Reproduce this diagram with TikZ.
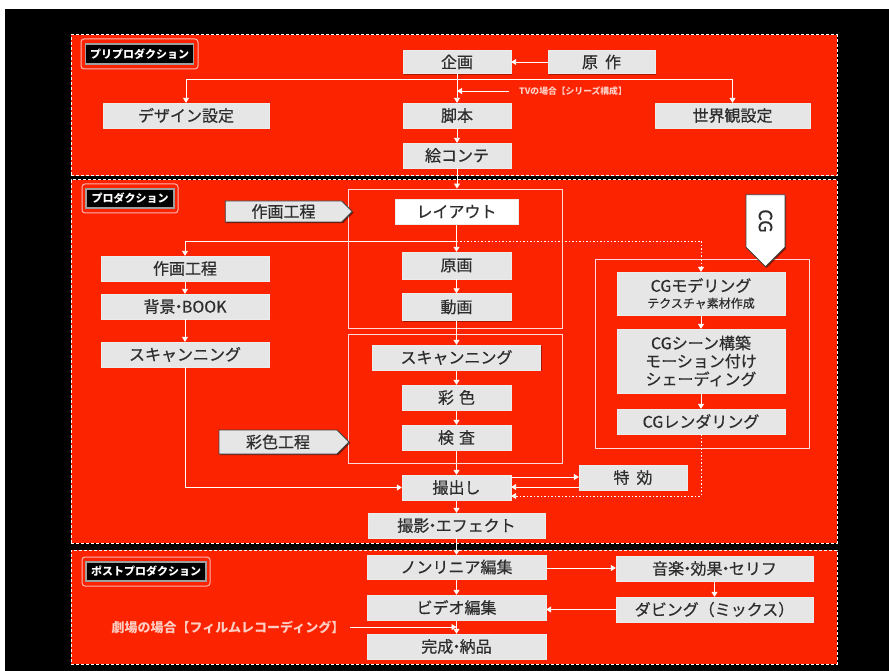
\documentclass[tikz,border=0pt]{standalone}
\usepackage{fontspec}
\newfontfamily\jp[FakeBold=0.5]{Noto Sans CJK JP}
\newfontfamily\jpb{Noto Sans CJK JP}
\usetikzlibrary{shapes.symbols,shadows,arrows.meta}
\definecolor{bg}{RGB}{252,36,0}
\definecolor{boxg}{RGB}{230,230,230}
\definecolor{txt}{RGB}{45,45,45}
\definecolor{pinkt}{RGB}{255,205,195}
\newcommand\dt{\kern-0.3em・\kern-0.3em}
\begin{document}
\begin{tikzpicture}[x=1pt,y=-1pt,
  sect/.style={draw=white, fill=bg, line width=1pt, dash pattern=on 3pt off 2pt, inner sep=0pt},
  lblo/.style={draw=white!70!red, fill=bg, line width=1pt, rounded corners=3pt, inner sep=0pt},
  lbli/.style={draw=gray!75, fill=black, line width=1.6pt, inner sep=0pt, text=white, font=\jpb\bfseries\fontsize{11}{12}\selectfont},
  box/.style={draw=white!85!gray, line width=0.3pt, fill=boxg, text=txt, inner sep=0pt,
     font=\jp\fontsize{16}{19}\selectfont, align=center,
     drop shadow={shadow xshift=1.2pt, shadow yshift=-1.2pt, opacity=0.35, fill=black}},
  grp/.style={draw=white!85!red, line width=0.9pt, inner sep=0pt},
  tag/.style={signal, signal to=east, signal pointer angle=90, fill=boxg, draw=gray!50!black, line width=0.8pt,
     text=txt, inner sep=0pt, font=\jp\fontsize{16}{19}\selectfont,
     drop shadow={shadow xshift=1.2pt, shadow yshift=-1.2pt, opacity=0.5, fill=black}},
  arr/.style={draw=white, line width=0.9pt, -{Triangle[length=5pt,width=6pt]}},
  dotl/.style={draw=white, line width=0.9pt, dash pattern=on 1.5pt off 2pt},
  note/.style={text=pinkt, inner sep=0pt},
]
\useasboundingbox (0,0) rectangle (889,671);
\fill[white] (0,0) rectangle (889,671);
\fill[black] (5,9) rectangle (889,671);

% sections
\node[sect, minimum width=766pt, minimum height=141pt] (pre) at (454,105.5) {};
\node[sect, minimum width=766pt, minimum height=363pt] (prod) at (454,361.5) {};
\node[sect, minimum width=766pt, minimum height=114pt] (post) at (454,607) {};

% section labels
\node[lblo, minimum width=117pt, minimum height=30pt] (preLo) at (139.5,54) {};
\node[lbli, minimum width=108pt, minimum height=20pt] (preL) at (139.5,54) {プリプロダクション};
\node[lblo, minimum width=96pt, minimum height=29pt] (prodLo) at (130,198.5) {};
\node[lbli, minimum width=88pt, minimum height=19pt] (prodL) at (130,198.5) {プロダクション};
\node[lblo, minimum width=128pt, minimum height=29pt] (postLo) at (146,571.5) {};
\node[lbli, minimum width=120pt, minimum height=19pt] (postL) at (146,571.5) {ポストプロダクション};

% groups
\node[grp, minimum width=214pt, minimum height=139pt] (g1) at (455,258.5) {};
\node[grp, minimum width=214pt, minimum height=129pt] (g2) at (455,398.5) {};
\node[grp, minimum width=214pt, minimum height=189pt] (gcg) at (702,353.5) {};

% pre-production boxes
\node[box, minimum width=108pt, minimum height=23pt] (kikaku) at (457,62) {企画};
\node[box, minimum width=107pt, minimum height=23pt] (gensaku) at (601.5,62) {原\hspace{7pt}作};
\node[box, minimum width=166pt, minimum height=25pt] (design) at (186,115.5) {デザイン設定};
\node[box, minimum width=108pt, minimum height=25pt] (kyakuhon) at (457,115.5) {脚本};
\node[box, minimum width=155pt, minimum height=25pt] (sekai) at (732.5,115.5) {世界観設定};
\node[box, minimum width=108pt, minimum height=25pt] (ekonte) at (457,155.5) {絵コンテ};
\node[note, font=\jpb\bfseries\fontsize{8.8}{10}\selectfont] (tvtxt) at (573,91) {TVの場合【シリーズ構成】};

% production boxes
\node[box, fill=white, minimum width=123pt, minimum height=25pt] (layout) at (456.5,211.5) {レイアウト};
\node[box, minimum width=109pt, minimum height=27pt] (genga) at (456.5,265.5) {原画};
\node[box, minimum width=109pt, minimum height=27pt] (douga) at (456.5,307) {動画};
\node[box, minimum width=168pt, minimum height=25pt] (scanC) at (456.5,357.5) {スキャンニング};
\node[box, minimum width=109pt, minimum height=25pt] (saishoku) at (456.5,397.5) {彩\hspace{5pt}色};
\node[box, minimum width=109pt, minimum height=25pt] (kensa) at (456.5,437.5) {検\hspace{5pt}査};
\node[box, minimum width=109pt, minimum height=25pt] (satsudashi) at (456.5,487.5) {撮出し};
\node[box, minimum width=177pt, minimum height=25pt] (satsuei) at (456.5,525.5) {撮影\dt エフェクト};
\node[box, minimum width=168pt, minimum height=25pt] (sakugaL) at (185,268.5) {作画工程};
\node[box, minimum width=168pt, minimum height=25pt] (haikei) at (185,306.5) {背景\dt BOOK};
\node[box, minimum width=168pt, minimum height=25pt] (scanL) at (185,354.5) {スキャンニング};
\node[box, minimum width=108pt, minimum height=25pt] (tokko) at (633,477.5) {特\hspace{7pt}効};
\node[box, minimum width=168pt, minimum height=43pt] (cgmodel) at (701,293.5) {CGモデリング\\[-3pt]{\fontsize{12}{13}\selectfont テクスチャ素材作成}};
\node[box, minimum width=168pt, minimum height=64pt] (cgscene) at (701,361) {CGシーン構築\\[-1pt]モーション付け\\[-1pt]シェーディング};
\node[box, minimum width=168pt, minimum height=25pt] (cgrender) at (701,421.5) {CGレンダリング};

% tags
\node[tag, minimum width=127pt, minimum height=21pt] (tagSakuga) at (283.5,211.5) {作画工程};
\node[tag, minimum width=130pt, minimum height=24pt] (tagSaishoku) at (278,442) {彩色工程};
\node[tag, fill=white, rotate=-90, minimum width=72pt, minimum height=39pt, font=\jp\fontsize{18}{20}\selectfont] (tagCG) at (765.5,221) {CG\hspace{8pt}};

% post-production boxes
\node[box, minimum width=179pt, minimum height=24pt] (nonlinear) at (456.5,567) {ノンリニア編集};
\node[box, minimum width=179pt, minimum height=25pt] (video) at (456.5,607.5) {ビデオ編集};
\node[box, minimum width=179pt, minimum height=25pt] (kansei) at (456.5,646.5) {完成\dt 納品};
\node[box, minimum width=197pt, minimum height=25pt] (ongaku) at (714.5,568.5) {音楽\dt 効果\dt セリフ};
\node[box, minimum width=197pt, minimum height=25pt] (dubbing) at (714.5,609.5) {ダビング（ミックス）};
\node[note, font=\jpb\bfseries\fontsize{13}{15}\selectfont] (gekijo) at (228,627) {劇場の場合【フィルムレコーディング】};

% connectors: pre
\draw[arr] (gensaku) -- (kikaku);
\draw[arr] (kikaku) -- (kyakuhon);
\coordinate (br1) at (457,79);
\draw[arr] (br1) -| (design.north);
\draw[arr] (br1) -| (sekai.north);
\draw[arr] ([xshift=-10pt]tvtxt.west) -- (kikaku.south |- tvtxt.west);
\draw[arr] (kyakuhon) -- (ekonte);
\draw[arr] (ekonte) -- (ekonte |- g1.north);

% connectors: production
\draw[arr] (layout) -- (genga);
\draw[arr] (genga) -- (douga);
\draw[arr] (douga) -- (scanC);
\draw[arr] (scanC) -- (saishoku);
\draw[arr] (saishoku) -- (kensa);
\draw[arr] (kensa) -- (satsudashi);
\draw[arr] (satsudashi) -- (satsuei);
\coordinate (br2) at (456.5,241);
\draw[arr] (br2) -| (sakugaL.north);
\draw[dotl, -{Triangle[length=5pt,width=6pt]}] (br2) -| (cgmodel.north);
\draw[arr] (sakugaL) -- (haikei);
\draw[arr] (haikei) -- (scanL);
\draw[arr] (scanL) |- (satsudashi);
\draw[arr] (satsudashi.east |- 0,477) -- (tokko.west |- 0,477);
\draw[arr] (tokko.west |- 0,487) -- (satsudashi.east |- 0,487);
\draw[dotl, -{Triangle[length=5pt,width=6pt]}] (cgrender.south) -- (cgrender.south |- 0,496) -- (satsudashi.east |- 0,496);
\draw[arr] (cgmodel) -- (cgscene);
\draw[arr] (cgscene) -- (cgrender);

% connectors: post
\draw[arr] (satsuei) -- (nonlinear);
\draw[arr] (nonlinear) -- (video);
\draw[arr] (video) -- (kansei);
\draw[arr] (nonlinear.east |- 0,568) -- (ongaku.west |- 0,568);
\draw[arr] (ongaku) -- (dubbing);
\draw[arr] (dubbing.west) -- (video.east |- dubbing.west);
\draw[arr] ([xshift=6pt]gekijo.east) -- (video.south |- gekijo.east);
\end{tikzpicture}
\end{document}
